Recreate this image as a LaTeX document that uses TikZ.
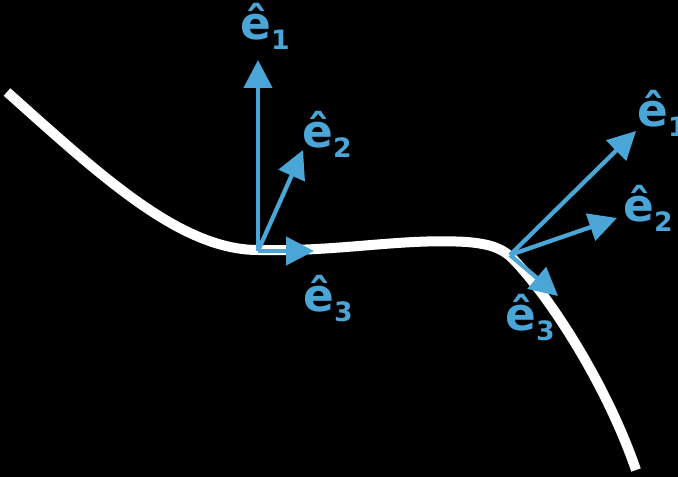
\documentclass[tikz,border=0pt]{standalone}
\usepackage{fontspec}
\setmainfont{DejaVu Sans}
\usetikzlibrary{arrows.meta}
\usepackage{xcolor}

\definecolor{vecblue}{RGB}{74,166,214}
\newcommand{\unitvec}[1]{ê\raisebox{-7.5pt}{\fontsize{20}{20}\selectfont #1}}

\begin{document}
\begin{tikzpicture}[
    x=0.75pt, y=-0.75pt,
    >={Triangle[length=21pt, width=21pt]},
    curve/.style={
        white,
        line width=7.5pt
    },
    vec/.style={
        ->,
        vecblue,
        line width=3.2pt
    },
    veclabel/.style={
        anchor=base west,
        inner sep=0pt,
        text=vecblue,
        font=\fontsize{34}{34}\selectfont\bfseries
    }
]

\useasboundingbox (0,0) rectangle (678,477);
\clip (0,0) rectangle (678,477);
\fill[black] (0,0) rectangle (678,477);

% the curve
\draw[curve] (7,92)
    .. controls (100,175) and (180,250) .. (258,250)
    .. controls (340,252) and (400,238) .. (467,242)
    .. controls (490,244) and (500,248) .. (510,256)
    .. controls (545,290) and (605,380) .. (636,470);

% first frame
\coordinate (o1) at (258,251);
\coordinate (t1a) at (258,60);
\coordinate (t1b) at (303,150);
\coordinate (t1c) at (314,251);

\draw[vec] (o1) -- (t1a);
\draw[vec] (o1) -- (t1b);
\draw[vec] (o1) -- (t1c);

\node[veclabel] (l1a) at (240,40)  {\unitvec{1}};
\node[veclabel] (l1b) at (302,148) {\unitvec{2}};
\node[veclabel] (l1c) at (303,311) {\unitvec{3}};

% second frame
\coordinate (o2) at (510,255);
\coordinate (t2a) at (636,131);
\coordinate (t2b) at (617,218);
\coordinate (t2c) at (558,296);

\draw[vec] (o2) -- (t2a);
\draw[vec] (o2) -- (t2b);
\draw[vec] (o2) -- (t2c);

\node[veclabel] (l2a) at (637,127) {\unitvec{1}};
\node[veclabel] (l2b) at (623,222) {\unitvec{2}};
\node[veclabel] (l2c) at (505,330) {\unitvec{3}};

\end{tikzpicture}
\end{document}
